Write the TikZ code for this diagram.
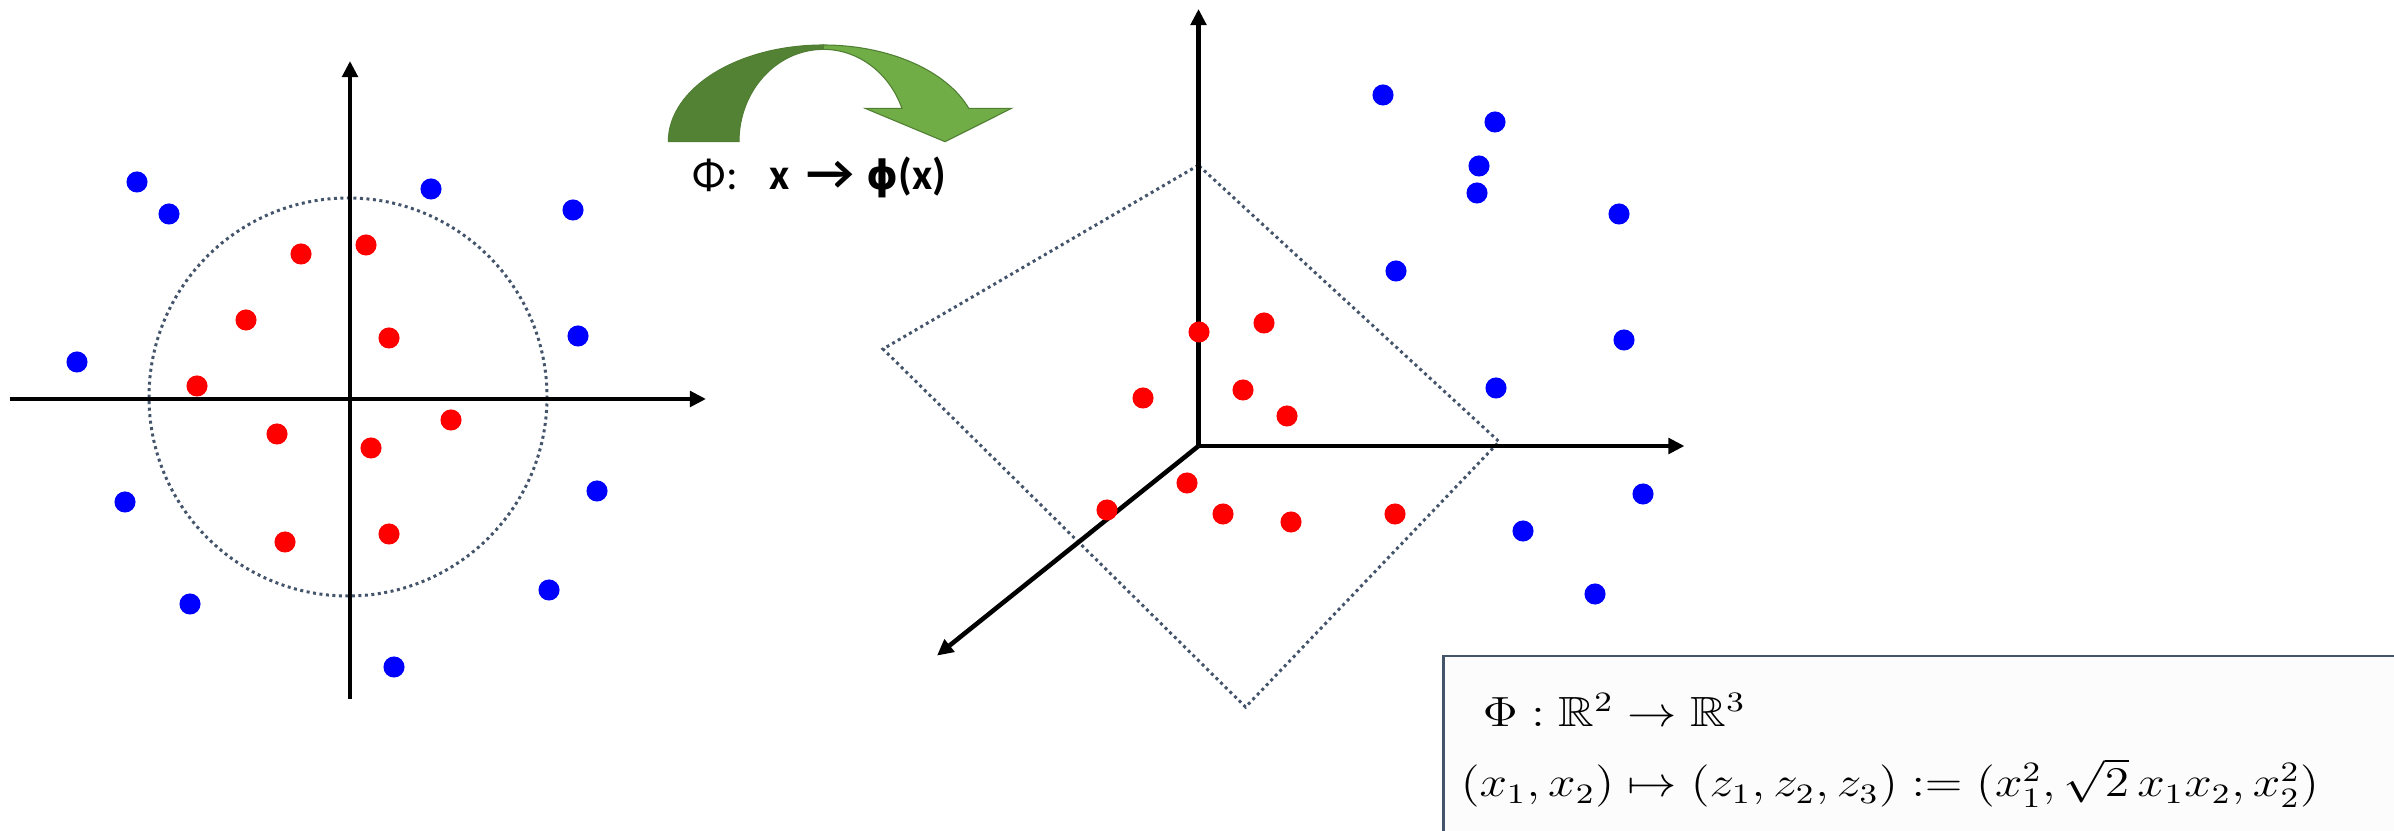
\documentclass[tikz,border=0pt]{standalone}
\usepackage{fontspec}
\usepackage{amssymb}
\usepackage{graphicx}
\newfontfamily\calfont{Carlito}
\newfontfamily\phifont{DejaVu Sans}
\usetikzlibrary{arrows.meta}
\definecolor{dotblue}{HTML}{0000FF}
\definecolor{dotred}{HTML}{FF0000}
\definecolor{slate}{HTML}{44546A}
\definecolor{gdark}{HTML}{548235}
\definecolor{glight}{HTML}{70AD47}
\definecolor{gline}{HTML}{507E32}
\tikzset{
  bdot/.style={circle,fill=dotblue,inner sep=0pt,minimum size=6pt},
  rdot/.style={circle,fill=dotred,inner sep=0pt,minimum size=6pt},
  axis/.style={line width=1.3pt,-{Triangle[length=4.6pt,width=4.4pt]}},
  sep/.style={slate,line width=0.85pt,dash pattern=on 0.85pt off 1.0pt},
  mathtxt/.style={anchor=base west,inner sep=0pt,font=\fontsize{12}{14}\selectfont,xscale=1.17,transform shape}
}
\begin{document}
\begin{tikzpicture}[x=0.01cm,y=-0.01cm]
\useasboundingbox (0,0) rectangle (2394,831);
% ---------- left plot ----------
\coordinate (LO) at (350,399);
\coordinate (Lt) at (350,61);
\coordinate (Lb) at (350,699);
\coordinate (Ll) at (10,399);
\coordinate (Lr) at (706,399);
\draw[sep] (348,397) circle[radius=199];
\draw[line width=1.3pt] (Lb) -- (LO);
\draw[axis] (LO) -- (Lt);
\draw[line width=1.3pt] (Ll) -- (LO);
\draw[axis] (LO) -- (Lr);
\node[bdot] (lb1) at (137,182) {};
\node[bdot] (lb2) at (169,214) {};
\node[bdot] (lb3) at (431,189) {};
\node[bdot] (lb4) at (573,210) {};
\node[bdot] (lb5) at (77,362) {};
\node[bdot] (lb6) at (578,336) {};
\node[bdot] (lb7) at (125,502) {};
\node[bdot] (lb8) at (597,491) {};
\node[bdot] (lb9) at (190,604) {};
\node[bdot] (lb10) at (549,590) {};
\node[bdot] (lb11) at (394,667) {};
\node[rdot] (lr1) at (301,254) {};
\node[rdot] (lr2) at (366,245) {};
\node[rdot] (lr3) at (246,320) {};
\node[rdot] (lr4) at (389,338) {};
\node[rdot] (lr5) at (197,386) {};
\node[rdot] (lr6) at (451,420) {};
\node[rdot] (lr7) at (277,434) {};
\node[rdot] (lr8) at (371,448) {};
\node[rdot] (lr9) at (285,542) {};
\node[rdot] (lr10) at (389,534) {};
% ---------- green curved arrow ----------
\filldraw[fill=gdark,draw=gline,line width=0.3pt]
  (668.3,141.7) arc[start angle=180,end angle=270,x radius=155,y radius=96.7]
  -- (823.3,49.4) arc[start angle=270,end angle=180,x radius=84.3,y radius=92.3]
  -- cycle;
\filldraw[fill=glight,draw=gline,line width=0.3pt]
  (823.3,45) arc[start angle=270,end angle=339.8,x radius=155,y radius=96.7]
  -- (1011.7,108.3) -- (945,141.7) -- (865,108.3) -- (901.9,108.3)
  arc[start angle=338.8,end angle=270,x radius=84.3,y radius=92.3]
  -- cycle;
\node[anchor=base west,inner sep=0pt,font=\calfont\fontsize{12.5}{15}\selectfont] (phi) at (692,190)
  {\makebox[21.7pt][l]{Φ:}\makebox[10.6pt][l]{\textbf{x}}\makebox[17pt][l]{\scalebox{1.2}[1.1]{\textbf{→}}}{\phifont\bfseries\fontsize{11.5}{13}\selectfont ϕ}\textbf{(x)}};
% ---------- right plot ----------
\coordinate (RO) at (1198.5,446);
\coordinate (Rt) at (1198.5,9);
\coordinate (Rr) at (1684.5,446);
\coordinate (Rd) at (937,655.6);
\draw[sep] (1198.4,165.3) -- (883,349) -- (1245.6,707.1) -- (1499.1,441.7) -- cycle;
\draw[axis] (RO) -- (Rt);
\draw[axis] (RO) -- (Rr);
\draw[axis] (RO) -- (Rd);
\node[bdot] (rb1) at (1383,95) {};
\node[bdot] (rb2) at (1495,122) {};
\node[bdot] (rb3) at (1479,166) {};
\node[bdot] (rb4) at (1477,193) {};
\node[bdot] (rb5) at (1619,214) {};
\node[bdot] (rb6) at (1396,271) {};
\node[bdot] (rb7) at (1624,340) {};
\node[bdot] (rb8) at (1496,388) {};
\node[bdot] (rb9) at (1643,494) {};
\node[bdot] (rb10) at (1523,531) {};
\node[bdot] (rb11) at (1595,594) {};
\node[rdot] (rr1) at (1199,332) {};
\node[rdot] (rr2) at (1264,323) {};
\node[rdot] (rr3) at (1143,398) {};
\node[rdot] (rr4) at (1243,390) {};
\node[rdot] (rr5) at (1287,416) {};
\node[rdot] (rr6) at (1187,483) {};
\node[rdot] (rr7) at (1107,510) {};
\node[rdot] (rr8) at (1223,514) {};
\node[rdot] (rr9) at (1291,522) {};
\node[rdot] (rr10) at (1395,514) {};
% ---------- formula box ----------
\coordinate (bx1) at (1443.5,840);
\coordinate (bx2) at (1443.5,656);
\coordinate (bx3) at (2400,656);
\fill[white!99!black] (bx1) rectangle (bx3);
\draw[slate,line width=0.6pt] (bx1) -- (bx2) -- (bx3);
\node[mathtxt] (f1) at (1482,727) {$\Phi:\mathbb{R}^2\to\mathbb{R}^3$};
\node[mathtxt] (f2) at (1460,797) {$(x_1,x_2)\mapsto(z_1,z_2,z_3):=(x_1^2,\sqrt{2}\,x_1x_2,x_2^2)$};
\end{tikzpicture}
\end{document}
